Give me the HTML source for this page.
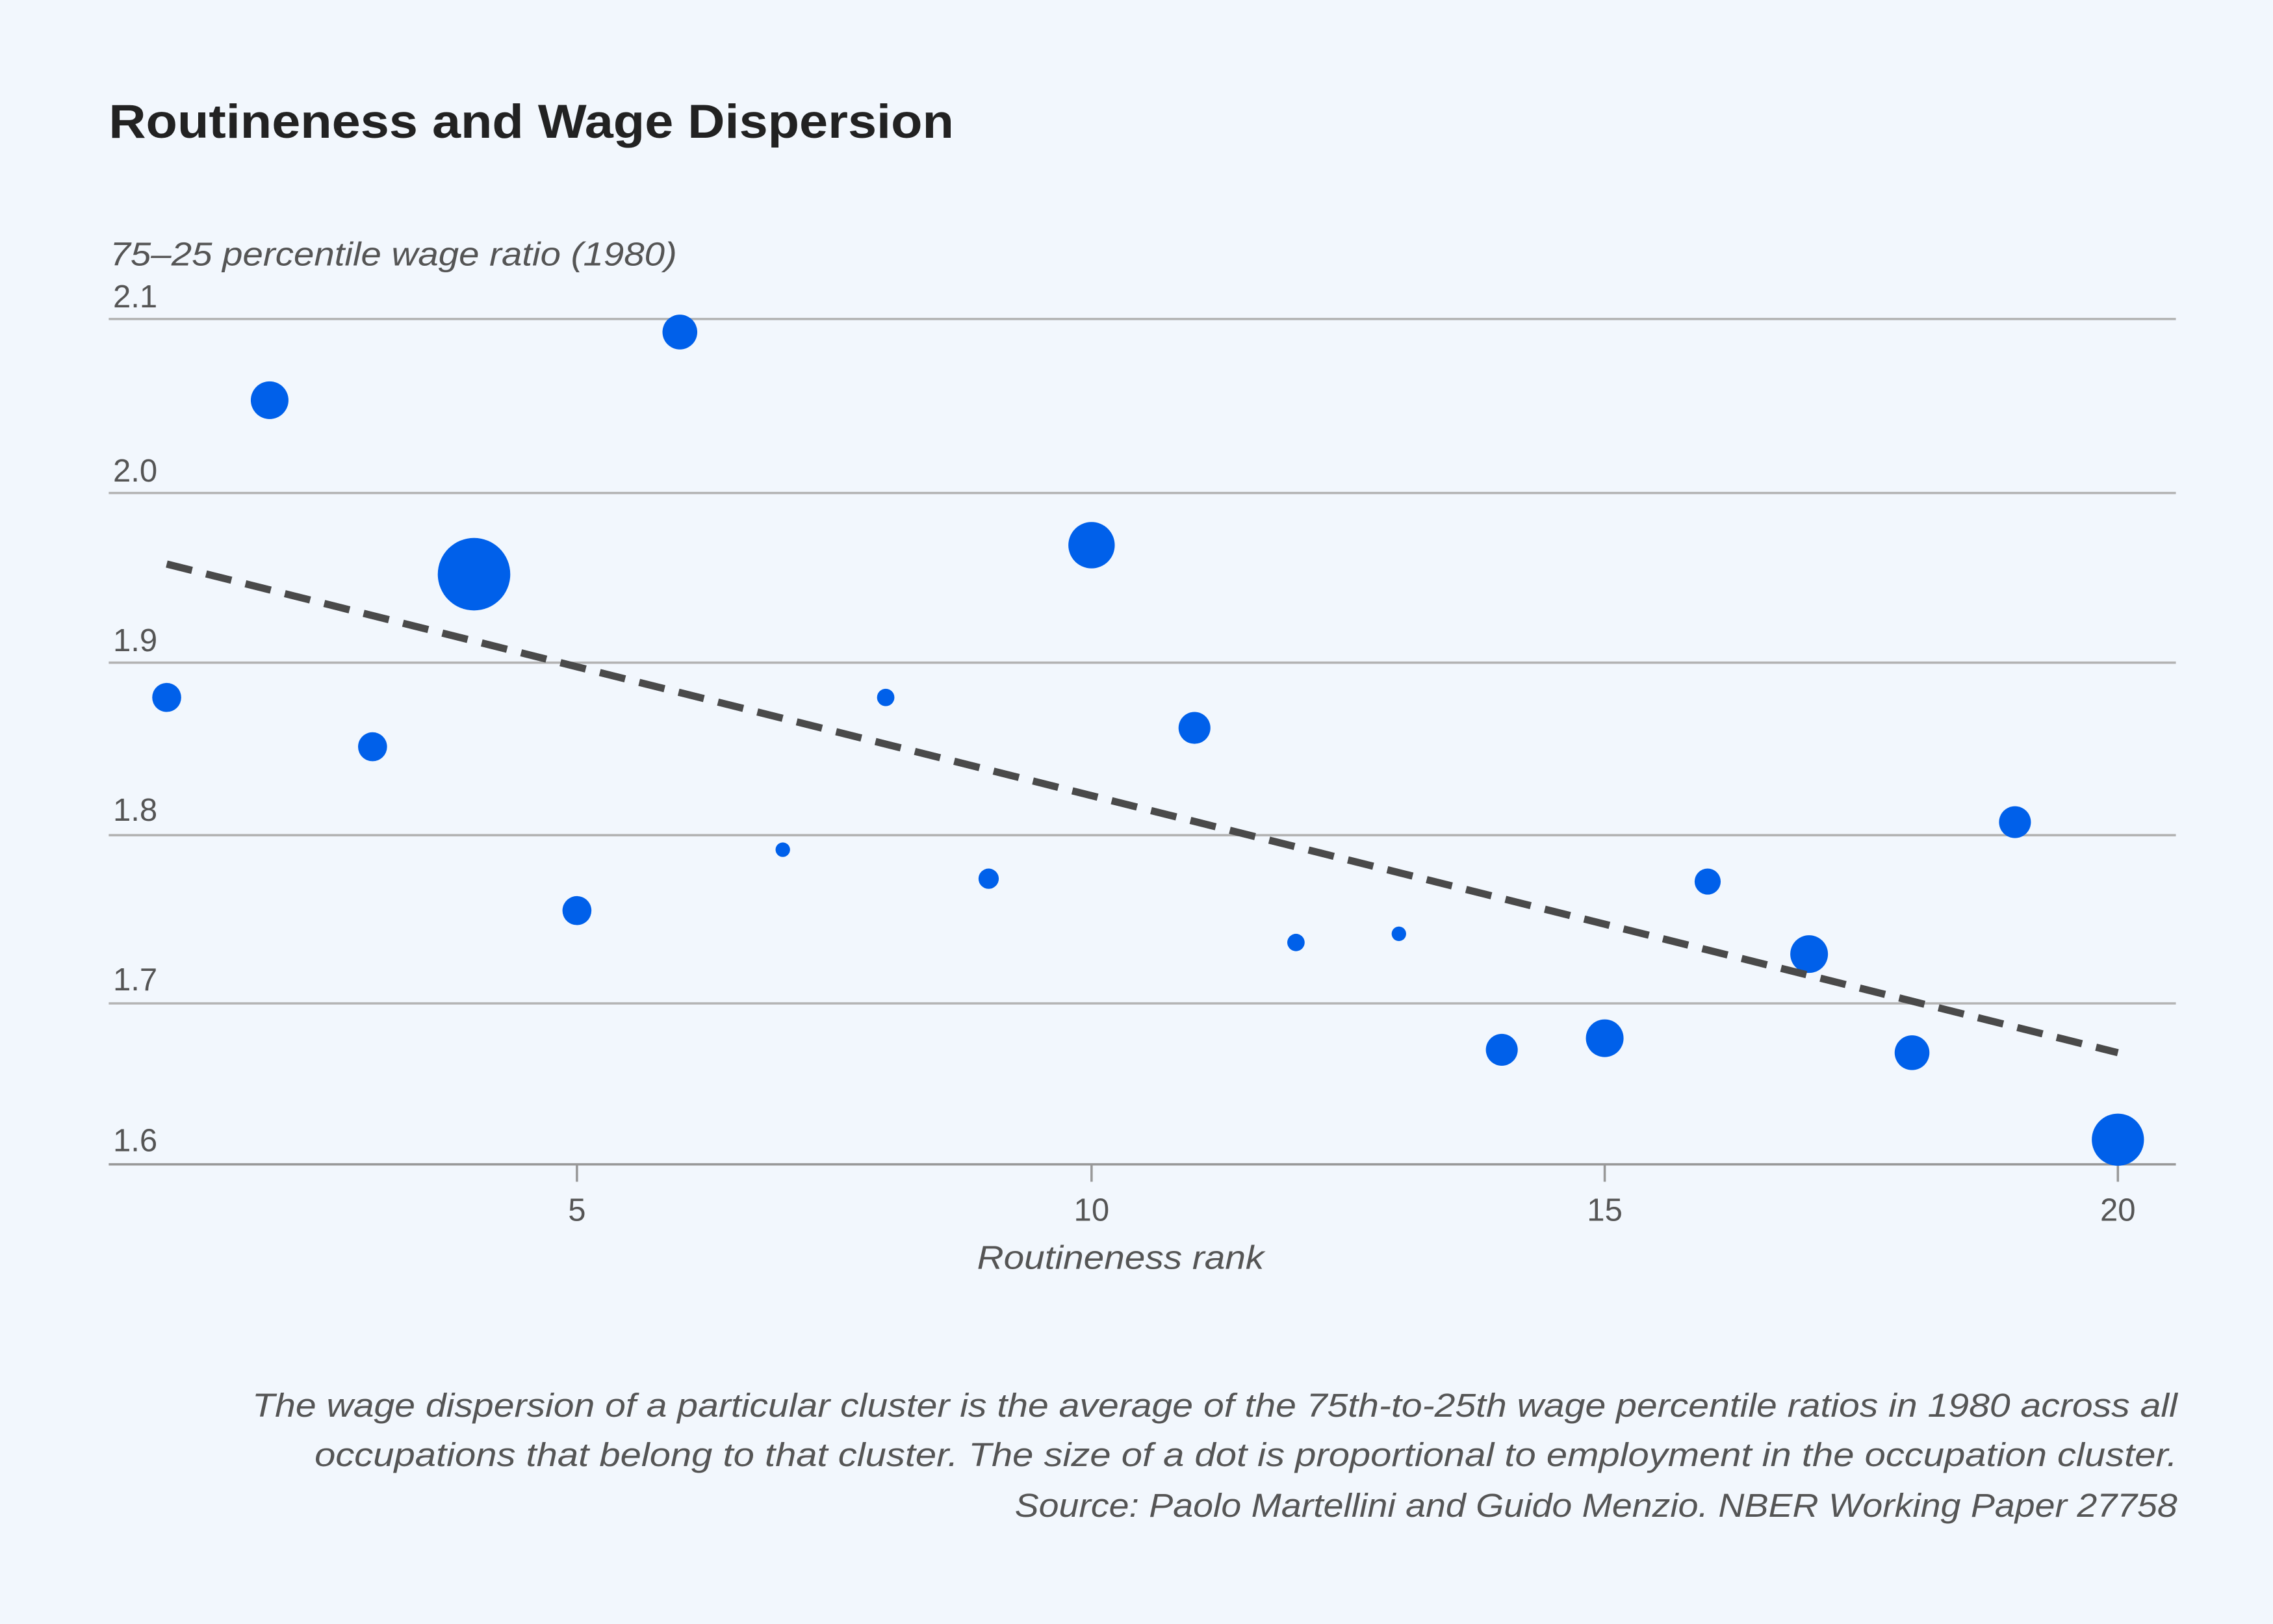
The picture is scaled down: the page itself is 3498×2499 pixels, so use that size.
<!DOCTYPE html>
<html><head><meta charset="utf-8"><style>
html,body{margin:0;padding:0;background:#f2f7fd;}
svg{display:block;}
</style></head><body>
<svg width="3498" height="2499" viewBox="0 0 1568 1120" preserveAspectRatio="none" xmlns="http://www.w3.org/2000/svg">
<rect width="1568" height="1120" fill="#f2f7fd"/>
<g font-family="Liberation Sans, sans-serif">
<text x="75" y="95" font-size="33" font-weight="bold" fill="#222" textLength="583" lengthAdjust="spacingAndGlyphs">Routineness and Wage Dispersion</text>
<text x="76" y="183" font-size="23" font-style="italic" fill="#555" textLength="391" lengthAdjust="spacingAndGlyphs">75–25 percentile wage ratio (1980)</text>
<g stroke="#b3b3b3" stroke-width="1.6">
<line x1="75" y1="220" x2="1501" y2="220"/>
<line x1="75" y1="340" x2="1501" y2="340"/>
<line x1="75" y1="457" x2="1501" y2="457"/>
<line x1="75" y1="576" x2="1501" y2="576"/>
<line x1="75" y1="692" x2="1501" y2="692"/>
<line x1="75" y1="803" x2="1501" y2="803" stroke="#999"/>
<line x1="398" y1="803" x2="398" y2="815" stroke="#999"/>
<line x1="753" y1="803" x2="753" y2="815" stroke="#999"/>
<line x1="1107" y1="803" x2="1107" y2="815" stroke="#999"/>
<line x1="1461" y1="803" x2="1461" y2="815" stroke="#999"/>
</g>
<g font-size="22" fill="#555">
<text x="78" y="212">2.1</text>
<text x="78" y="332">2.0</text>
<text x="78" y="449">1.9</text>
<text x="78" y="566">1.8</text>
<text x="78" y="683">1.7</text>
<text x="78" y="794">1.6</text>
<g text-anchor="middle">
<text x="398" y="842">5</text>
<text x="753" y="842">10</text>
<text x="1107" y="842">15</text>
<text x="1461" y="842">20</text>
</g>
</g>
<text x="773" y="875" font-size="23" font-style="italic" fill="#555" text-anchor="middle" textLength="198" lengthAdjust="spacingAndGlyphs">Routineness rank</text>
<g fill="#0060ea">
<circle cx="115" cy="481" r="10"/>
<circle cx="186" cy="276" r="13"/>
<circle cx="257" cy="515" r="10"/>
<circle cx="327" cy="396" r="25"/>
<circle cx="398" cy="628" r="10"/>
<circle cx="469" cy="229" r="12"/>
<circle cx="540" cy="586" r="5"/>
<circle cx="611" cy="481" r="6"/>
<circle cx="682" cy="606" r="7"/>
<circle cx="753" cy="376" r="16"/>
<circle cx="824" cy="502" r="11"/>
<circle cx="894" cy="650" r="6"/>
<circle cx="965" cy="644" r="5"/>
<circle cx="1036" cy="724" r="11"/>
<circle cx="1107" cy="716" r="13"/>
<circle cx="1178" cy="608" r="9"/>
<circle cx="1248" cy="658" r="13"/>
<circle cx="1319" cy="726" r="12"/>
<circle cx="1390" cy="567" r="11"/>
<circle cx="1461" cy="786" r="18"/>
</g>
<line x1="115" y1="389" x2="1461" y2="726" stroke="#4a4a4a" stroke-width="5" stroke-dasharray="18 10"/>
<g font-size="23" font-style="italic" fill="#555" text-anchor="end">
<text x="1502" y="977" textLength="1328" lengthAdjust="spacingAndGlyphs">The wage dispersion of a particular cluster is the average of the 75th-to-25th wage percentile ratios in 1980 across all</text>
<text x="1502" y="1011" textLength="1285" lengthAdjust="spacingAndGlyphs">occupations that belong to that cluster. The size of a dot is proportional to employment in the occupation cluster.</text>
<text x="1502" y="1046" textLength="802" lengthAdjust="spacingAndGlyphs">Source: Paolo Martellini and Guido Menzio. NBER Working Paper 27758</text>
</g>
</g>
</svg>
</body></html>
